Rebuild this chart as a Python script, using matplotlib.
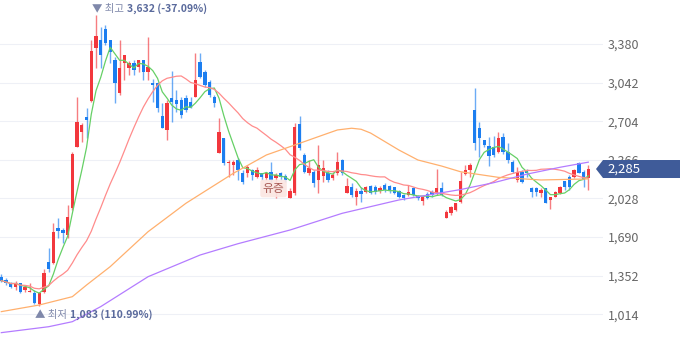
import numpy as np
import pandas as pd
import matplotlib.pyplot as plt
from matplotlib.patches import Polygon

plt.rcParams['font.family'] = ['Noto Sans CJK KR', 'DejaVu Sans']

# daily candles (KRW)
opens = [1342, 1313, 1290, 1249, 1284, 1226, 1208, 1202, 1103, 1211,
         1473, 1459, 1766, 1751, 1707, 1941, 2480, 2612, 2738, 2883,
         3342, 3415, 3508, 3415, 3240, 2948, 3211, 3167, 3216, 3181,
         3240, 3137, 3041, 3036, 2749, 2627, 2904, 2889, 2889, 2904,
         2874, 2918, 3225, 3137, 3050, 2918, 2423, 2554, 2335, 2320,
         2364, 2247, 2253, 2276, 2218, 2247, 2204, 2261, 2204, 2253,
         2224, 2029, 2072, 2679, 2408, 2247, 2259, 2189, 2224, 2247,
         2206, 2253, 2364, 2078, 2125, 2043, 2095, 2086, 2136, 2130,
         2095, 2145, 2136, 2125, 2095, 2057, 2057, 2116, 2049, 2008,
         2066, 2086, 2072, 2116, 1853, 1897, 1926, 1999, 2241, 2276,
         2802, 2641, 2539, 2486, 2480, 2437, 2568, 2437, 2349, 2189,
         2261, 2276, 2116, 2116, 2072, 2116, 2014, 2043, 2072, 2183,
         2212, 2218, 2335, 2261, 2204]
closes = [1307, 1284, 1255, 1284, 1211, 1255, 1219, 1109, 1197, 1377,
          1407, 1736, 1742, 1722, 1867, 2416, 2699, 2670, 2714, 3321,
          3450, 3283, 3386, 3312, 3036, 3167, 3283, 3211, 3152, 3240,
          3137, 3181, 3021, 2817, 2647, 2863, 2874, 2854, 2758, 2802,
          2831, 3064, 3093, 3021, 2933, 2860, 2612, 2335, 2349, 2349,
          2276, 2174, 2300, 2233, 2276, 2218, 2247, 2189, 2233, 2218,
          2189, 2095, 2650, 2466, 2261, 2291, 2162, 2320, 2294, 2189,
          2233, 2349, 2247, 2136, 2057, 2095, 2066, 2125, 2078, 2086,
          2116, 2101, 2095, 2078, 2043, 2029, 2086, 2057, 2029, 2037,
          2029, 2057, 2116, 2057, 1911, 1955, 1985, 2180, 2276, 2320,
          2510, 2554, 2495, 2399, 2408, 2559, 2437, 2364, 2261, 2261,
          2174, 2247, 2086, 2086, 2101, 1985, 2043, 2086, 2130, 2130,
          2130, 2276, 2247, 2189, 2285]
highs = [1366, 1331, 1298, 1304, 1290, 1269, 1290, 1226, 1211, 1409,
         1591, 1815, 1853, 1768, 1970, 2434, 2918, 2688, 2819, 3415,
         3632, 3531, 3546, 3415, 3268, 3415, 3283, 3231, 3240, 3240,
         3240, 3438, 3073, 3050, 2863, 2889, 3146, 2977, 2918, 2933,
         2918, 3301, 3301, 3152, 3064, 2933, 2729, 2554, 2364, 2364,
         2379, 2276, 2320, 2282, 2305, 2247, 2261, 2349, 2247, 2261,
         2241, 2119, 2688, 2749, 2423, 2364, 2276, 2495, 2364, 2276,
         2261, 2437, 2370, 2204, 2160, 2116, 2130, 2136, 2145, 2145,
         2136, 2160, 2145, 2130, 2101, 2066, 2145, 2130, 2057, 2049,
         2086, 2101, 2282, 2174, 1926, 1961, 1990, 2261, 2320, 2335,
         2992, 2699, 2539, 2568, 2574, 2612, 2600, 2513, 2364, 2305,
         2276, 2282, 2130, 2130, 2116, 2119, 2043, 2095, 2136, 2183,
         2233, 2285, 2349, 2276, 2320]
lows = [1298, 1269, 1243, 1226, 1202, 1211, 1204, 1103, 1083, 1202,
        1386, 1453, 1678, 1637, 1678, 1926, 2478, 2524, 2554, 2874,
        3170, 3170, 3371, 3213, 2863, 2933, 3064, 3108, 3108, 3137,
        3064, 3064, 2874, 2787, 2644, 2539, 2699, 2787, 2729, 2787,
        2817, 2918, 3082, 3006, 2918, 2831, 2423, 2320, 2218, 2233,
        2189, 2154, 2218, 2189, 2204, 2189, 2189, 2174, 2029, 2189,
        2174, 2029, 2057, 2451, 2247, 2233, 2130, 2075, 2174, 2174,
        2189, 2233, 2233, 2072, 2037, 1970, 1999, 2072, 2066, 2066,
        2072, 2086, 2072, 2066, 2029, 2014, 2049, 2049, 2014, 1970,
        2020, 2037, 2057, 2049, 1853, 1882, 1917, 1985, 2233, 2212,
        2451, 2393, 2480, 2311, 2393, 2423, 2416, 2335, 2247, 2174,
        2160, 2218, 2043, 2049, 2043, 1985, 1932, 2040, 2066, 2101,
        2101, 2204, 2247, 2130, 2101]

# long moving averages (candle index, value)
ma60_idx = [0, 8, 15, 18, 23, 31, 39, 49, 56, 63, 69, 71, 74, 76, 78, 84, 88, 93, 97, 105, 114, 124]
ma60_val = [1036, 1094, 1167, 1269, 1430, 1736, 1985, 2247, 2408, 2510, 2598, 2627, 2642, 2633,
            2600, 2451, 2364, 2311, 2261, 2212, 2189, 2198]
ma120_idx = [0, 10, 15, 21, 31, 42, 50, 61, 72, 84, 97, 104, 111, 118, 124]
ma120_val = [852, 904, 948, 1080, 1342, 1532, 1631, 1751, 1897, 2014, 2105, 2165, 2240, 2300, 2345]

y_ticks = [1014, 1352, 1690, 2028, 2366, 2704, 3042, 3380]
event_label = "유증"
event_idx = 57

UP = "#f2373d"
DOWN = "#1c7ef0"

W, H = 680, 358
fig = plt.figure(figsize=(W / 100, H / 100), dpi=100)
ax = fig.add_axes([0, 0, 603 / W, 1])
ax.set_xlim(-0.28, 127.1)
ax.set_ylim(630, 3765)

o = np.array(opens, float)
c = np.array(closes, float)
hi = np.array(highs, float)
lo = np.array(lows, float)
idx = np.arange(len(c))
up = c >= o
cols = np.where(up, UP, DOWN)

# wicks and bodies
ax.vlines(idx, lo, hi, colors=cols, linewidth=1, alpha=0.65, zorder=2)
body_h = np.maximum(np.abs(c - o), 9)
ax.bar(idx, body_h, bottom=np.minimum(o, c), width=0.7, color=cols, linewidth=0, zorder=2)

# moving averages
ma5 = pd.Series(c).rolling(5, min_periods=1).mean()
ma20 = pd.Series(c).rolling(20, min_periods=1).mean()
ax.plot(idx, ma5, color="#66d066", lw=0.9, zorder=3)
ax.plot(idx, ma20, color="#ff8c8c", lw=0.9, zorder=3)
ax.plot(ma60_idx, ma60_val, color="#ffb06e", lw=0.9, zorder=3)
ax.plot(ma120_idx, ma120_val, color="#b47cff", lw=0.9, zorder=3)

# axis styling
ax.set_yticks(y_ticks)
ax.set_yticklabels([f"{v:,}" for v in y_ticks])
ax.yaxis.tick_right()
ax.tick_params(axis='y', length=0, pad=3.5, labelsize=9, labelcolor="#666666")
ax.set_xticks([])
ax.grid(axis='y', color="#eef0f6", lw=0.8, zorder=0)
for s in ax.spines.values():
    s.set_visible(False)

last = c[-1]

# high / low markers
hi_i = int(np.argmax(hi))
lo_i = int(np.argmin(lo))
t1 = ax.annotate("▼ 최고", xy=(hi_i, hi[hi_i]), xytext=(-3, 1), textcoords='offset points',
                 ha='left', va='bottom', fontsize=7.5, color="#7f88aa", zorder=5)
ax.annotate(f"{hi[hi_i]:,.0f} ({(last / hi[hi_i] - 1) * 100:.2f}%)", xy=(1, 0), xycoords=t1,
            xytext=(2, 0), textcoords='offset points', ha='left', va='bottom',
            fontsize=7.5, fontweight='bold', color="#5a6a9c", zorder=5)
t2 = ax.annotate("▲ 최저", xy=(lo_i, lo[lo_i]), xytext=(-3, -3), textcoords='offset points',
                 ha='left', va='top', fontsize=7.5, color="#7f88aa", zorder=5)
ax.annotate(f"{lo[lo_i]:,.0f} ({(last / lo[lo_i] - 1) * 100:.2f}%)", xy=(1, 0), xycoords=t2,
            xytext=(2, 0), textcoords='offset points', ha='left', va='bottom',
            fontsize=7.5, fontweight='bold', color="#5a6a9c", zorder=5)

# event tag
ax.text(event_idx + 0.5, 2115, event_label, ha='center', va='center', fontsize=8.5,
        color="#a85a55", zorder=6,
        bbox=dict(boxstyle='round,pad=0.2', fc="#fbe6e2", ec='none', alpha=0.9))

# current price tag
yd = ax.transData.transform((0, last))[1]
hh = 9
pts = np.array([[596, yd], [603, yd + hh], [680, yd + hh], [680, yd - hh], [603, yd - hh]])
pts = pts / np.array([W, H])
fig.add_artist(Polygon(pts, closed=True, transform=fig.transFigure, fc="#3f5b99", ec='none', zorder=10))
fig.text(607 / W, yd / H, f"{last:,.0f}", ha='left', va='center', fontsize=9.5, color='white', zorder=11)

fig.savefig("out.png", dpi=100)
